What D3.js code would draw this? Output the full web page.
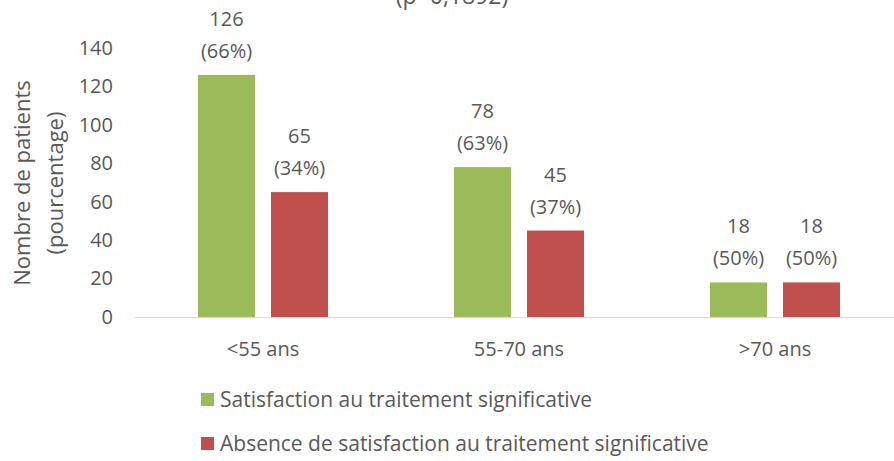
<!DOCTYPE html>
<html>
<head>
<meta charset="utf-8">
<script src="https://cdn.jsdelivr.net/npm/d3@7"></script>
<style>
  body { margin: 0; background: #fff; }
  svg text { font-family: "Open Sans", "Noto Sans", sans-serif; fill: #595959; }
</style>
</head>
<body>
<svg id="chart" width="894" height="461"></svg>
<script>
// Chart data
const categories = ['<55 ans', '55-70 ans', '>70 ans'];
const seriesNames = ['Satisfaction au traitement significative', 'Absence de satisfaction au traitement significative'];
const satisfied = [126, 78, 18];
const notSatisfied = [65, 45, 18];
const satisfiedPct = ['66%', '63%', '50%'];
const notSatisfiedPct = ['34%', '37%', '50%'];
const yTicks = [0, 20, 40, 60, 80, 100, 120, 140];
const colors = ['#9BBB59', '#C0504D'];

const svg = d3.select('#chart');

// Scales
const y = d3.scaleLinear().domain([0, 140]).range([317, 48]);
const x = d3.scaleBand().domain(categories).range([135, 903]).paddingInner(0.492).paddingOuter(0.246);
const xSub = d3.scaleBand().domain([0, 1]).range([0, x.bandwidth()]).paddingInner(0.219);

// Title fragment (cut at top, as in the original)
svg.append('text')
    .attr('x', 452).attr('y', 4)
    .attr('text-anchor', 'middle')
    .style('font-size', '23px')
    .text('(p=0,1892)');

// Y axis labels
const yAxis = svg.append('g').attr('transform', 'translate(116,0)')
    .call(d3.axisLeft(y).tickValues(yTicks).tickSize(0).tickPadding(3));
yAxis.select('.domain').remove();
yAxis.selectAll('text').style('font-size', '20px').attr('fill', null);

// Y axis title
const yTitle = svg.append('text')
    .attr('transform', 'translate(0,183) rotate(-90)')
    .attr('text-anchor', 'middle')
    .style('font-size', '22px');
yTitle.append('tspan').attr('x', 0).attr('y', 30).text('Nombre de patients');
yTitle.append('tspan').attr('x', 0).attr('y', 63).text('(pourcentage)');

// Baseline
svg.append('line')
    .attr('x1', 135).attr('x2', 894)
    .attr('y1', y(0) + 0.5).attr('y2', y(0) + 0.5)
    .attr('stroke', '#d9d9d9').attr('stroke-width', 1);

// Bars
const rows = [];
categories.forEach((cat, i) => {
    rows.push({ cat, s: 0, v: satisfied[i], pct: satisfiedPct[i] });
    rows.push({ cat, s: 1, v: notSatisfied[i], pct: notSatisfiedPct[i] });
});

svg.selectAll('.bar').data(rows).enter()
    .append('rect')
    .attr('class', 'bar')
    .attr('x', d => x(d.cat) + xSub(d.s))
    .attr('y', d => y(d.v))
    .attr('width', xSub.bandwidth())
    .attr('height', d => y(0) - y(d.v))
    .attr('fill', d => colors[d.s]);

// Data labels
const labels = svg.selectAll('.lbl').data(rows).enter()
    .append('text')
    .attr('class', 'lbl')
    .attr('text-anchor', 'middle')
    .style('font-size', '20px');
labels.append('tspan')
    .attr('x', d => x(d.cat) + xSub(d.s) + xSub.bandwidth() / 2)
    .attr('y', d => y(d.v) - 49)
    .text(d => d.v);
labels.append('tspan')
    .attr('x', d => x(d.cat) + xSub(d.s) + xSub.bandwidth() / 2)
    .attr('y', d => y(d.v) - 17)
    .text(d => '(' + d.pct + ')');

// X axis labels
const xAxis = svg.append('g').attr('transform', `translate(0,${y(0)})`)
    .call(d3.axisBottom(x).tickSize(0).tickPadding(25));
xAxis.select('.domain').remove();
xAxis.selectAll('text').style('font-size', '20px').attr('fill', null);

// Legend
const legend = svg.selectAll('.legend').data(seriesNames).enter()
    .append('g')
    .attr('class', 'legend')
    .attr('transform', (d, i) => `translate(201,${393 + i * 44})`);
legend.append('rect').attr('width', 13).attr('height', 13).attr('fill', (d, i) => colors[i]);
legend.append('text')
    .attr('x', 19).attr('y', 14)
    .style('font-size', '21px')
    .text(d => d);
</script>
</body>
</html>
